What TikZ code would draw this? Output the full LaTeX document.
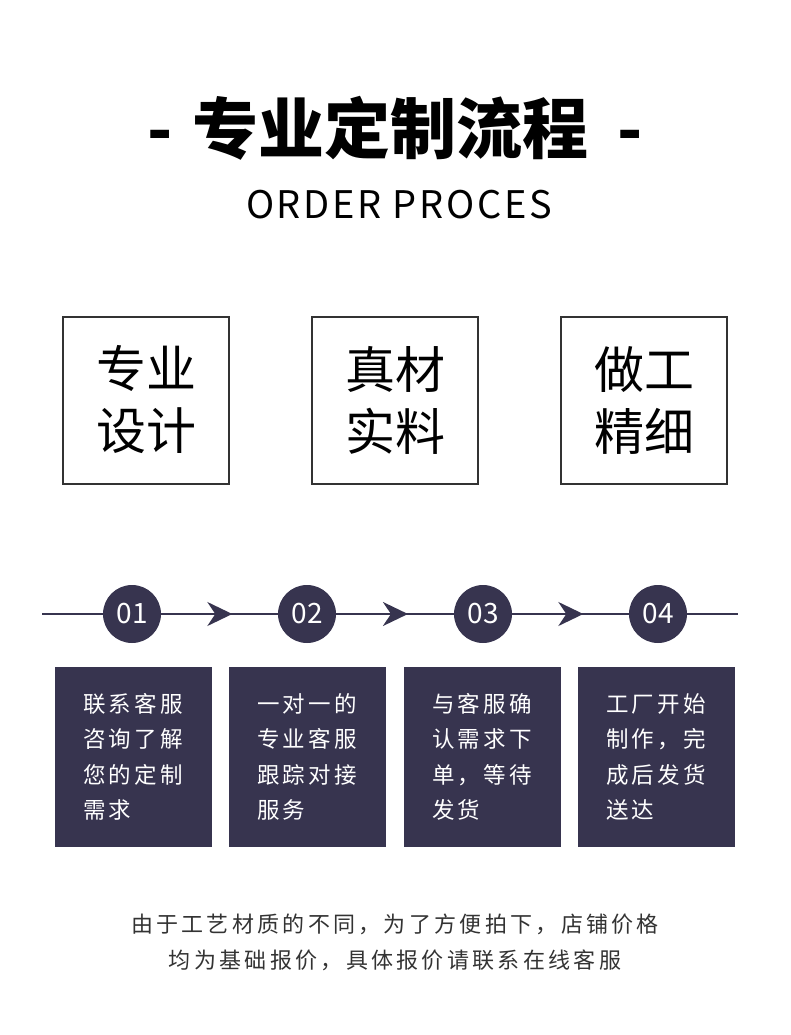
\documentclass[tikz,border=0pt]{standalone}
\usepackage{fontspec}
\setmainfont{Noto Sans CJK SC}
\newfontfamily\spaced[LetterSpace=15]{Noto Sans CJK SC}
\newfontfamily\wide[LetterSpace=7]{Noto Sans CJK SC}
\usetikzlibrary{arrows.meta,decorations.markings}
\definecolor{navy}{HTML}{37344F}
\definecolor{ink}{HTML}{333333}

\begin{document}
\begin{tikzpicture}[x=1pt, y=-1pt, framebox/.style={draw=ink, line width=2pt, minimum width=166pt, minimum height=167pt, align=center, font=\fontsize{50}{62}\selectfont}, stepnum/.style={circle, fill=navy, minimum size=58pt, inner sep=0pt, text=white, font=\fontsize{28}{28}\selectfont}, stepbox/.style={fill=navy, minimum width=157pt, minimum height=180pt, text width=101pt, inner xsep=28pt, align=left, text=white, font=\spaced\fontsize{22.5}{35.5}\selectfont}, link/.style={navy, line width=2pt}, flow/.style={link, postaction={decorate}, decoration={markings, mark=at position 0.61 with {\arrow{Stealth[length=25pt, width=24pt, inset=8pt]}}}}]
		\useasboundingbox (0, 0) rectangle (790, 1035);
		\node[font=\bfseries\fontsize{66}{66}\selectfont] (title) at (395, 128) {-\hspace{5pt} 专业定制流程 \hspace{13pt}-};
		\node[font=\wide\fontsize{38}{38}\selectfont] (subtitle) at (399, 205) {ORDER PROCES};

		\node[framebox] (design) at (146, 400) {专业\\设计};
		\node[framebox] (material) at (395, 400) {真材\\实料};
		\node[framebox] (craft) at (644, 400) {做工\\精细};

		\coordinate (lstart) at (42, 614);
		\coordinate (lend) at (738, 614);
		\foreach \i/\x in {1/132, 2/307, 3/483, 4/658}
			\node[stepnum] (c\i) at (\x, 614) {0\i};
		\draw[link] (lstart) -- (c1);
		\draw[flow] (c1) -- (c2);
		\draw[flow] (c2) -- (c3);
		\draw[flow] (c3) -- (c4);
		\draw[link] (c4) -- (lend);

		\node[stepbox] (s1) at (133.5, 757) {联系客服\\咨询了解\\您的定制\\需求};
		\node[stepbox] (s2) at (307.5, 757) {一对一的\\专业客服\\跟踪对接\\服务};
		\node[stepbox] (s3) at (482.5, 757) {与客服确\\认需求下\\单，等待\\发货};
		\node[stepbox] (s4) at (656.5, 757) {工厂开始\\制作，完\\成后发货\\送达};

		\node[text=ink, font=\spaced\fontsize{22}{22}\selectfont] (note1) at (395, 924) {由于工艺材质的不同，为了方便拍下，店铺价格};
		\node[text=ink, font=\spaced\fontsize{22}{22}\selectfont] (note2) at (395, 960) {均为基础报价，具体报价请联系在线客服};
	\end{tikzpicture}
\end{document}
